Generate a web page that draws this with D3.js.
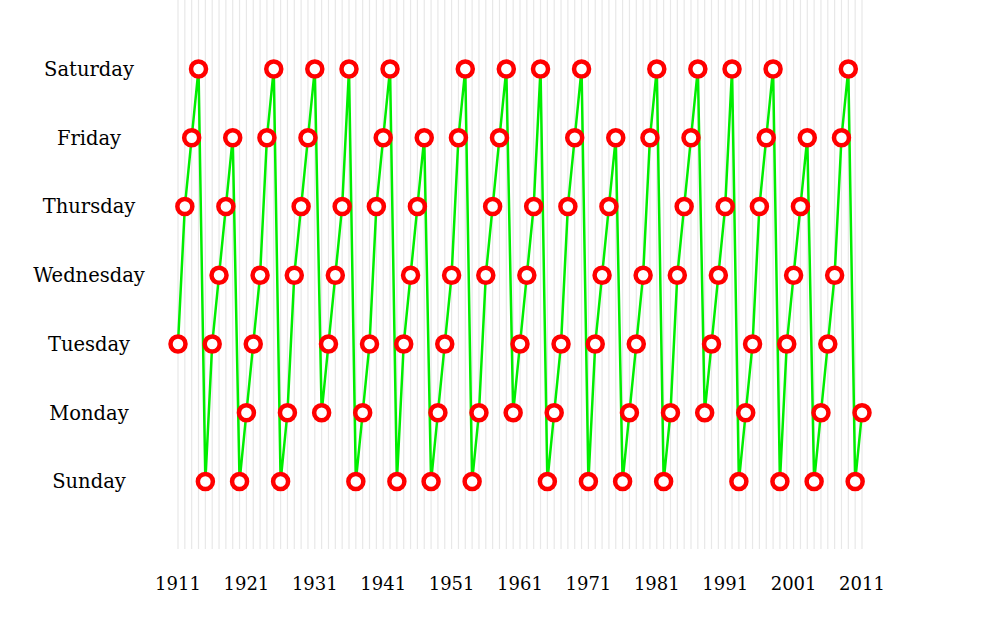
<!DOCTYPE html>
<html><head><meta charset="utf-8">
<script src="https://cdn.jsdelivr.net/npm/d3@7"></script>
<style>body{margin:0;background:#fff}svg{display:block}</style>
</head><body>
<svg id="chart" width="1000" height="618"></svg>
<script>
const days = ["Sunday","Monday","Tuesday","Wednesday","Thursday","Friday","Saturday"];
const years = d3.range(1911, 2012);
// day-of-week index (0=Sunday ... 6=Saturday) for each year 1911..2011
const dayIndex = [
 2,4,5,6,0,2,3,4,5,0,
 1,2,3,5,6,0,1,3,4,5,
 6,1,2,3,4,6,0,1,2,4,
 5,6,0,2,3,4,5,0,1,2,
 3,5,6,0,1,3,4,5,6,1,
 2,3,4,6,0,1,2,4,5,6,
 0,2,3,4,5,0,1,2,3,5,
 6,0,1,3,4,5,6,1,2,3,
 4,6,0,1,2,4,5,6,0,2,
 3,4,5,0,1,2,3,5,6,0,
 1
];
const tickYears = [1911,1921,1931,1941,1951,1961,1971,1981,1991,2001,2011];

const data = years.map((y,i)=>({year:y, day:dayIndex[i]}));
const svg = d3.select("#chart");
const x = d3.scaleLinear().domain([1911,2011]).range([178,862]);
const y = d3.scalePoint().domain(days).range([481.5,69]);

svg.append("g").selectAll("line").data(years).join("line")
  .attr("x1",d=>x(d)).attr("x2",d=>x(d)).attr("y1",0).attr("y2",549)
  .attr("stroke","#e8e8e8").attr("stroke-width",1.2);

const font = "'DejaVu Serif', serif";
svg.append("g").selectAll("text").data(days).join("text")
  .attr("x",89).attr("y",d=>y(d)).attr("dy","0.35em")
  .attr("text-anchor","middle").attr("font-family",font).attr("font-size",19.5)
  .attr("fill","#000").text(d=>d);

svg.append("g").selectAll("text").data(tickYears).join("text")
  .attr("x",d=>x(d)).attr("y",590)
  .attr("text-anchor","middle").attr("font-family",font).attr("font-size",18)
  .attr("fill","#000").text(d=>d);

svg.append("path").datum(data)
  .attr("d", d3.line().x(d=>x(d.year)).y(d=>y(days[d.day])))
  .attr("fill","none").attr("stroke","#00ee00").attr("stroke-width",2.5);

svg.append("g").selectAll("circle").data(data).join("circle")
  .attr("cx",d=>x(d.year)).attr("cy",d=>y(days[d.day])).attr("r",7.5)
  .attr("fill","#fff").attr("stroke","#ff0000").attr("stroke-width",4.5);
</script>
</body></html>
